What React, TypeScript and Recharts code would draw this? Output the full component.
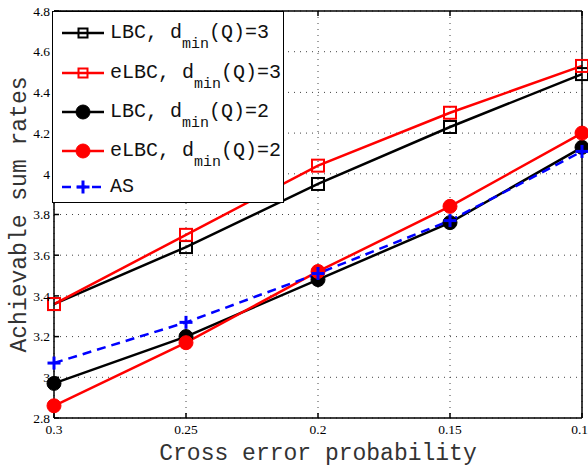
import { LineChart, Line, XAxis, YAxis, CartesianGrid, Legend } from 'recharts';

// Sum rates vs. cross error probability (x axis runs 0.3 -> 0.1)
const errorProb = [0.3, 0.25, 0.2, 0.15, 0.1];
const lbc3 = [3.36, 3.64, 3.95, 4.23, 4.49];
const elbc3 = [3.36, 3.7, 4.04, 4.3, 4.53];
const lbc2 = [2.97, 3.2, 3.48, 3.76, 4.13];
const elbc2 = [2.86, 3.17, 3.52, 3.84, 4.2];
const asRates = [3.07, 3.27, 3.51, 3.77, 4.11];

const xTicks = [0.3, 0.25, 0.2, 0.15, 0.1];
const yTicks = [2.8, 3, 3.2, 3.4, 3.6, 3.8, 4, 4.2, 4.4, 4.6, 4.8];

const data = errorProb.map((p, i) => ({
  p,
  lbc3: lbc3[i],
  elbc3: elbc3[i],
  lbc2: lbc2[i],
  elbc2: elbc2[i],
  as: asRates[i],
}));

type Marker = 'square' | 'circle' | 'plus';

interface SeriesDef {
  key: string;
  color: string;
  marker: Marker;
  dashed?: boolean;
  name: string;
  sub?: string;
  tail?: string;
}

const series: SeriesDef[] = [
  { key: 'lbc3', color: '#000000', marker: 'square', name: 'LBC, d', sub: 'min', tail: '(Q)=3' },
  { key: 'elbc3', color: '#ff0000', marker: 'square', name: 'eLBC, d', sub: 'min', tail: '(Q)=3' },
  { key: 'lbc2', color: '#000000', marker: 'circle', name: 'LBC, d', sub: 'min', tail: '(Q)=2' },
  { key: 'elbc2', color: '#ff0000', marker: 'circle', name: 'eLBC, d', sub: 'min', tail: '(Q)=2' },
  { key: 'as', color: '#0000ff', marker: 'plus', dashed: true, name: 'AS' },
];

function drawMarker(marker: Marker, color: string, cx: number, cy: number, size: number, key?: string) {
  const h = size / 2;
  if (marker === 'square') {
    return <rect key={key} x={cx - h} y={cy - h} width={size} height={size} fill="none" stroke={color} strokeWidth={2} />;
  }
  if (marker === 'circle') {
    return <circle key={key} cx={cx} cy={cy} r={h} fill={color} stroke={color} />;
  }
  return (
    <g key={key}>
      <line x1={cx - h} y1={cy} x2={cx + h} y2={cy} stroke={color} strokeWidth={3} />
      <line x1={cx} y1={cy - h} x2={cx} y2={cy + h} stroke={color} strokeWidth={3} />
    </g>
  );
}

const fmtY = (v: number) => String(Number(v.toFixed(1)));
const noLabel = () => <g />;

const monoFont = '"Liberation Mono", "DejaVu Sans Mono", monospace';
const serifFont = '"Liberation Serif", "DejaVu Serif", serif';

const legendRowTops = [9, 49, 88, 127, 163];

function LegendBox() {
  return (
    <div
      style={{
        position: 'relative',
        width: 232,
        height: 192,
        background: '#fff',
        border: '1.5px solid #000',
        boxSizing: 'border-box',
        fontFamily: monoFont,
        fontSize: 20,
        color: '#111',
      }}
    >
      {series.map((s, i) => (
        <div key={s.key} style={{ position: 'absolute', left: 0, top: legendRowTops[i], height: 24, width: 230 }}>
          <svg width={56} height={24} style={{ position: 'absolute', left: 0, top: 0 }}>
            <line
              x1={9}
              y1={12}
              x2={51}
              y2={12}
              stroke={s.color}
              strokeWidth={2.5}
              strokeDasharray={s.dashed ? '9 6' : undefined}
            />
            {drawMarker(s.marker, s.color, 30, 12, s.marker === 'square' ? 9 : s.marker === 'circle' ? 14 : 13)}
          </svg>
          <div style={{ position: 'absolute', left: 57, top: 0, lineHeight: '24px', whiteSpace: 'nowrap' }}>
            {s.name}
            {s.sub && (
              <span style={{ fontSize: 15, position: 'relative', top: 10 }}>{s.sub}</span>
            )}
            {s.tail}
          </div>
        </div>
      ))}
    </div>
  );
}

export default function App() {
  return (
    <div style={{ position: 'absolute', left: 0, top: 0, width: 588, height: 466, background: '#fff' }}>
      <LineChart width={588} height={466} data={data} margin={{ top: 11, right: 6, left: 0, bottom: 0 }}>
        <CartesianGrid stroke="#444" strokeDasharray="1 5" strokeWidth={1} />
        <XAxis
          dataKey="p"
          type="number"
          domain={[0.1, 0.3]}
          reversed
          ticks={xTicks}
          tickFormatter={(v: number) => String(v)}
          height={48}
          tickSize={-5}
          tickMargin={11}
          stroke="#000"
          strokeWidth={1.5}
          tick={{ fontFamily: serifFont, fontSize: 13.5, fill: '#000' }}
          label={{
            value: 'Cross error probability',
            position: 'insideBottom',
            offset: 6,
            style: { fontFamily: monoFont, fontSize: 23, fill: '#333' },
          }}
        />
        <XAxis
          xAxisId="top"
          dataKey="p"
          type="number"
          domain={[0.1, 0.3]}
          reversed
          ticks={xTicks}
          orientation="top"
          mirror
          height={5}
          tickSize={5}
          stroke="#000"
          strokeWidth={1.5}
          tick={noLabel}
        />
        <YAxis
          domain={[2.8, 4.8]}
          ticks={yTicks}
          tickFormatter={fmtY}
          width={54}
          tickSize={-5}
          tickMargin={9}
          stroke="#000"
          strokeWidth={1.5}
          tick={{ fontFamily: serifFont, fontSize: 13.5, fill: '#000' }}
          label={{
            value: 'Achievable sum rates',
            angle: -90,
            position: 'insideLeft',
            offset: 18,
            style: { fontFamily: monoFont, fontSize: 23, fill: '#333', textAnchor: 'middle' },
          }}
        />
        <YAxis
          yAxisId="right"
          domain={[2.8, 4.8]}
          ticks={yTicks}
          orientation="right"
          mirror
          width={5}
          tickSize={5}
          stroke="#000"
          strokeWidth={1.5}
          tick={noLabel}
        />
        {series.map(s => (
          <Line
            key={s.key}
            dataKey={s.key}
            type="linear"
            stroke={s.color}
            strokeWidth={2.5}
            strokeDasharray={s.dashed ? '9 6' : undefined}
            isAnimationActive={false}
            activeDot={false}
            dot={(props: any) =>
              drawMarker(
                s.marker,
                s.color,
                props.cx,
                props.cy,
                s.marker === 'square' ? 12 : s.marker === 'circle' ? 14 : 13,
                `${s.key}-${props.index}`,
              )
            }
          />
        ))}
        <Legend
          layout="vertical"
          align="center"
          verticalAlign="middle"
          content={() => <LegendBox />}
          wrapperStyle={{ left: 52, top: 11, width: 232, height: 192 }}
        />
      </LineChart>
    </div>
  );
}
